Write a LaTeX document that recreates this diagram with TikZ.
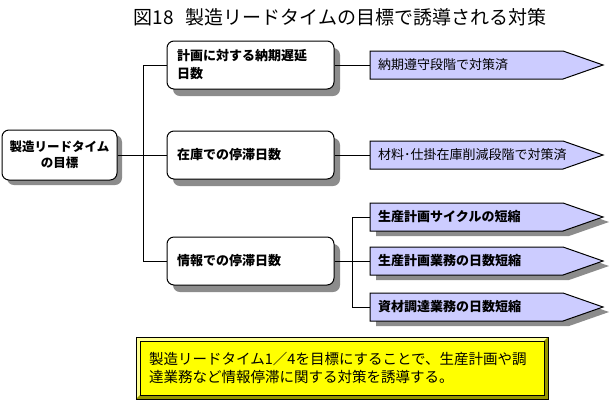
\documentclass[tikz,border=0pt]{standalone}
\usepackage{fontspec}
\setmainfont{Noto Sans CJK JP}
\usetikzlibrary{shadows}
\definecolor{pentfill}{RGB}{204,204,255}
\definecolor{shadowgray}{RGB}{140,140,140}
\definecolor{ylw}{RGB}{255,255,0}
\definecolor{ylwlight}{RGB}{255,255,150}
\definecolor{ylwdark}{RGB}{150,150,0}
\tikzset{
  conn/.style={line width=1pt, draw=black},
  rootbox/.style={draw=black, line width=1pt, fill=white, rounded corners=7pt,
    minimum width=115pt, minimum height=50pt, align=center, inner sep=0pt,
    font={\fontsize{12.5}{16}\selectfont\bfseries},
    general shadow={fill=shadowgray, shadow xshift=5pt, shadow yshift=-5pt}},
  midbox/.style={draw=black, line width=1pt, fill=white, rounded corners=7pt,
    text width=147pt, inner xsep=10pt, inner ysep=0pt, minimum height=48pt, align=left,
    font={\fontsize{13}{18}\selectfont\bfseries},
    general shadow={fill=shadowgray, shadow xshift=6pt, shadow yshift=-7pt}},
  penttext/.style={anchor=west, inner xsep=8pt, inner ysep=0pt, minimum height=28pt,
    font={\fontsize{13}{16}\selectfont}},
  pentbold/.style={penttext, font={\fontsize{13}{16}\selectfont\bfseries}},
  pentshape/.style={draw=black, line width=1pt, fill=pentfill},
  pentshadow/.style={fill=shadowgray},
}
\newcommand\pentpath[2]{(370+#1,#2-14) -- (563+#1,#2-14) -- (603+#1,#2) -- (563+#1,#2+14) -- (370+#1,#2+14) -- cycle}
\begin{document}
\begin{tikzpicture}[x=1pt,y=-1pt]
\useasboundingbox[fill=white] (0,0) rectangle (615,400);

% title
\node[font={\fontsize{19}{22}\selectfont}] (title) at (340,17) {図18\hspace{0.6em}製造リードタイムの目標で誘導される対策};

% root
\node[rootbox] (root) at (59.5,155) {製造リードタイム\\の目標};

% middle boxes
\node[midbox] (m1) at (250.5,65) {計画に対する納期遅延\\日数};
\node[midbox] (m2) at (250.5,155) {在庫での停滞日数};
\node[midbox] (m3) at (250.5,261) {情報での停滞日数};

% pentagons
\path[pentshape] \pentpath{0}{65};
\node[penttext] (p1) at (370,65) {納期遵守段階で対策済};
\path[pentshape] \pentpath{0}{155};
\node[penttext] (p2) at (370,155) {材料･仕掛在庫削減段階で対策済};

\path[pentshadow] \pentpath{6}{222};
\path[pentshape] \pentpath{0}{217};
\node[pentbold] (pa) at (370,217) {生産計画サイクルの短縮};
\path[pentshadow] \pentpath{6}{266};
\path[pentshape] \pentpath{0}{261};
\node[pentbold] (pb) at (370,261) {生産計画業務の日数短縮};
\path[pentshadow] \pentpath{6}{312};
\path[pentshape] \pentpath{0}{307};
\node[pentbold] (pc) at (370,307) {資材調達業務の日数短縮};

% connectors
\coordinate (tr) at (143,0);
\coordinate (sx) at (352,0);
\draw[conn] (m1.west) -- (m1.west -| tr) -- (m3.west -| tr) -- (m3.west);
\draw[conn] (root.east) -- (m2.west);
\draw[conn] (m1.east) -- (p1.west);
\draw[conn] (m2.east) -- (p2.west);
\draw[conn] (m3.east) -- (pb.west);
\draw[conn] (pa.west) -- (pa.west -| sx) -- (pc.west -| sx) -- (pc.west);

% yellow summary box
\fill[ylw] (136,337) rectangle (548,399);
\fill[ylwlight] (136,337) -- (548,337) -- (544,341) -- (140,341) -- (140,395) -- (136,399) -- cycle;
\fill[ylwdark] (548,337) -- (548,399) -- (136,399) -- (140,395) -- (544,395) -- (544,341) -- cycle;
\draw[line width=1pt] (140,341) rectangle (544,395);
\draw[line width=1pt] (136,337) rectangle (548,399);
\node[anchor=west, align=left, inner sep=0pt, font={\fontsize{14.5}{18}\selectfont}] (summary) at (149,368.5)
  {製造リードタイム1／4を目標にすることで、生産計画や調\\達業務など情報停滞に関する対策を誘導する。};
\end{tikzpicture}
\end{document}
